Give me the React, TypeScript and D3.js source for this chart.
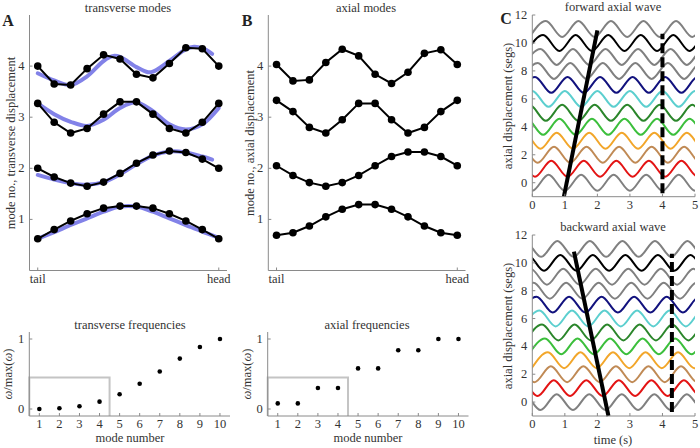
import React from "react";
import * as d3 from "d3";

// ---------- DATA ----------
const bodyPos = [1, 2, 3, 4, 5, 6, 7, 8, 9, 10, 11, 12];
const bodyTickLabels = ["tail", "head"];
const modeTicks = [1, 2, 3, 4];

const transMode1 = [0.62, 0.8, 0.97, 1.11, 1.22, 1.26, 1.26, 1.22, 1.11, 0.97, 0.8, 0.62];
const transMode2 = [2.0, 1.83, 1.71, 1.65, 1.73, 1.9, 2.1, 2.26, 2.34, 2.31, 2.18, 2.0];
const transMode3 = [3.27, 2.9, 2.69, 2.78, 3.06, 3.3, 3.3, 3.06, 2.78, 2.69, 2.9, 3.27];
const transMode4 = [4.0, 3.65, 3.63, 3.95, 4.22, 4.14, 3.84, 3.77, 4.05, 4.36, 4.34, 4.0];

const fitX1 = [1, 2, 3, 4, 5, 6, 7, 8, 9, 10, 11, 12];
const transFit1 = [0.62, 0.75, 0.89, 1.02, 1.15, 1.25, 1.25, 1.15, 1.02, 0.89, 0.76, 0.64];
const fitX2 = [1, 2, 3, 4, 5, 6, 7, 8, 9, 10, 11, 11.6];
const transFit2 = [1.87, 1.78, 1.71, 1.68, 1.73, 1.88, 2.08, 2.25, 2.33, 2.31, 2.23, 2.17];
const fitX3 = [1, 2, 3, 4, 5, 6, 7, 8, 9, 10, 11, 12];
const transFit3 = [3.27, 3.06, 2.91, 2.83, 2.95, 3.18, 3.29, 3.12, 2.86, 2.76, 2.86, 3.18];
const fitX4 = [1, 2, 3, 4, 5, 5.6, 6, 7, 7.7, 8, 9, 10, 10.5, 11, 11.6];
const transFit4 = [3.86, 3.72, 3.63, 3.8, 4.1, 4.2, 4.18, 3.98, 3.88, 3.89, 4.1, 4.33, 4.38, 4.35, 4.24];

const axMode1 = [0.69, 0.74, 0.87, 1.05, 1.2, 1.29, 1.29, 1.2, 1.05, 0.87, 0.74, 0.69];
const axMode2 = [2.05, 1.86, 1.72, 1.65, 1.72, 1.86, 2.05, 2.23, 2.32, 2.32, 2.23, 2.05];
const axMode3 = [3.33, 3.11, 2.8, 2.69, 2.95, 3.27, 3.27, 2.95, 2.69, 2.8, 3.11, 3.33];
const axMode4 = [4.03, 3.71, 3.73, 4.07, 4.33, 4.2, 3.84, 3.66, 3.88, 4.25, 4.32, 4.03];

const modeNumbers = [1, 2, 3, 4, 5, 6, 7, 8, 9, 10];
const transFreq = [0.0, 0.01, 0.04, 0.105, 0.21, 0.36, 0.535, 0.72, 0.885, 1.0];
const axialFreq = [0.08, 0.08, 0.3, 0.3, 0.58, 0.58, 0.84, 0.84, 1.0, 1.0];
const freqTicks = [0, 1];
const boxCorner = { x: 4.5, y: 0.45 };

const timeTicks = [0, 1, 2, 3, 4, 5];
const segTicks = [0, 2, 4, 6, 8, 10, 12];
const segCenters = [0, 1, 2, 3, 4, 5, 6, 7, 8, 9, 10, 11];
const segColors = ["#808080", "#e31414", "#c08a55", "#f2a62a", "#3cbf3c", "#2b862b", "#5ccfcf", "#12127e", "#808080", "#808080", "#000000", "#808080"];
const waveAmp = 0.57;
const wavePeriod = 1.0;
const fwdTrough = [0.0, 0.083, 0.167, 0.25, 0.333, 0.417, 0.5, 0.583, 0.667, 0.75, 0.833, 0.917];
const bwdTrough = [0.25, 0.16, 0.07, 0.98, 0.89, 0.8, 0.72, 0.63, 0.54, 0.45, 0.36, 0.27];
const fwdLine = [{ t: 0.97, y: -1 }, { t: 2.0, y: 10.9 }];
const bwdLine = [{ t: 1.28, y: 10.8 }, { t: 2.34, y: -1 }];
const fwdDash = [{ t: 4.0, y: -0.75 }, { t: 4.0, y: 10.65 }];
const bwdDash = [{ t: 4.29, y: -0.72 }, { t: 4.29, y: 10.65 }];

// ---------- STYLE ----------
const FONT = "'Liberation Serif', 'DejaVu Serif', serif";
const AX = "#8a8a8a";
const TXT = "#333";
const BLUE = "#8282e8";

const Title = ({ x, y, children }: any) => (
  <text x={x} y={y} textAnchor="middle" fontFamily={FONT} fontSize={12.5} fill={TXT}>{children}</text>
);
const Letter = ({ x, y, children }: any) => (
  <text x={x} y={y} textAnchor="middle" fontFamily={FONT} fontSize={16} fontWeight="bold" fill="#222">{children}</text>
);
const YLabel = ({ x, y, children }: any) => (
  <text transform={`translate(${x},${y}) rotate(-90)`} textAnchor="middle" fontFamily={FONT} fontSize={12.5} fill={TXT}>{children}</text>
);

function Axes({ xs, ys, xTicks, xLabels, yTicks, yLabels, xLabelY }: any) {
  const [x0, x1] = xs.range();
  const [y0, y1] = ys.range();
  return (
    <g>
      <line x1={x0} x2={x1} y1={y0} y2={y0} stroke={AX} strokeWidth={1} />
      <line x1={x0} x2={x0} y1={y0} y2={y1} stroke={AX} strokeWidth={1} />
      {xTicks.map((t: number, i: number) => (
        <g key={"x" + i}>
          <line x1={xs(t)} x2={xs(t)} y1={y0} y2={y0 - 3} stroke={AX} />
          <text x={xs(t)} y={y0 + xLabelY} textAnchor="middle" fontFamily={FONT} fontSize={12.5} fill={TXT}>{xLabels[i]}</text>
        </g>
      ))}
      {yTicks.map((t: number, i: number) => (
        <g key={"y" + i}>
          <line x1={x0} x2={x0 + 3} y1={ys(t)} y2={ys(t)} stroke={AX} />
          <text x={x0 - 5} y={ys(t) + 4} textAnchor="end" fontFamily={FONT} fontSize={12.5} fill={TXT}>{yLabels[i]}</text>
        </g>
      ))}
    </g>
  );
}

function ModePanel({ x0, x1, modes, fits, fitXs }: any) {
  const xs = d3.scaleLinear().domain([0.5, 12.5]).range([x0, x1]);
  const ys = d3.scaleLinear().domain([0, 5]).range([270.5, 15]);
  const line = d3.line<number>().x((_, i) => xs(bodyPos[i])).y((d) => ys(d));
  return (
    <g>
      <Axes xs={xs} ys={ys} xTicks={[1, 12]} xLabels={bodyTickLabels} yTicks={modeTicks} yLabels={modeTicks.map(String)} xLabelY={12.5} />
      {fits && fits.map((f: number[], k: number) => {
        const fl = d3.line<number>().x((_, i) => xs(fitXs[k][i])).y((d) => ys(d)).curve(d3.curveCatmullRom.alpha(0.5));
        return <path key={"f" + k} d={fl(f) || ""} fill="none" stroke={BLUE} strokeWidth={4} strokeLinecap="round" />;
      })}
      {modes.map((m: number[], k: number) => (
        <g key={k}>
          <path d={line(m) || ""} fill="none" stroke="#000" strokeWidth={2} />
          {m.map((v, i) => <circle key={i} cx={xs(bodyPos[i])} cy={ys(v)} r={3.8} fill="#000" />)}
        </g>
      ))}
    </g>
  );
}

function FreqPanel({ x0, x1, vals }: any) {
  const xs = d3.scaleLinear().domain([0.5, 10.5]).range([x0, x1]);
  const ys = d3.scaleLinear().domain([-0.1, 1.1]).range([416, 332]);
  return (
    <g>
      <path d={`M${xs(0.5)},${ys(-0.1)}V${ys(boxCorner.y)}H${xs(boxCorner.x)}V${ys(-0.1)}`} fill="none" stroke="#c4c4c4" strokeWidth={2} />
      <Axes xs={xs} ys={ys} xTicks={modeNumbers} xLabels={modeNumbers.map(String)} yTicks={freqTicks} yLabels={freqTicks.map(String)} xLabelY={12} />
      {vals.map((v: number, i: number) => <circle key={i} cx={xs(modeNumbers[i])} cy={ys(v)} r={2.3} fill="#000" />)}
    </g>
  );
}

function WavePanel({ yTop, yBot, troughs, solid, dash, id }: any) {
  const xs = d3.scaleLinear().domain([0, 5]).range([532.3, 695]);
  const ys = d3.scaleLinear().domain([-1, 12]).range([yBot, yTop]);
  const wl = d3.line<[number, number]>().x((d) => xs(d[0])).y((d) => ys(d[1])).curve(d3.curveMonotoneX);
  const pl = d3.line<any>().x((d) => xs(d.t)).y((d) => ys(d.y));
  return (
    <g>
      <defs>
        <clipPath id={id}>
          <rect x={xs(0)} y={yTop - 10} width={xs(5) - xs(0)} height={yBot - yTop + 20} />
        </clipPath>
      </defs>
      <g clipPath={`url(#${id})`}>
        {segCenters.map((c, k) => {
          const pts: [number, number][] = [];
          let trough = true;
          for (let t = troughs[k] - wavePeriod; t <= 5 + wavePeriod; t += wavePeriod / 2) {
            pts.push([t, c + (trough ? -waveAmp : waveAmp)]);
            trough = !trough;
          }
          return <path key={k} d={wl(pts) || ""} fill="none" stroke={segColors[k]} strokeWidth={2} />;
        })}
      </g>
      <path d={pl(solid) || ""} stroke="#000" strokeWidth={4} fill="none" />
      <path d={pl(dash) || ""} stroke="#000" strokeWidth={4} strokeDasharray="10,4" fill="none" />
      <Axes xs={xs} ys={ys} xTicks={timeTicks} xLabels={timeTicks.map(String)} yTicks={segTicks} yLabels={segTicks.map(String)} xLabelY={12} />
    </g>
  );
}

const Omega = () => (
  <>
    <tspan fontStyle="italic">ω</tspan>/max(<tspan fontStyle="italic">ω</tspan>)
  </>
);

export default function App() {
  return (
    <svg width={700} height={448} style={{ position: "absolute", left: 0, top: 0, background: "#fff" }}>
      <rect width={700} height={448} fill="#fff" />
      {/* Panel A */}
      <Letter x={8} y={26}>A</Letter>
      <Title x={128} y={12}>transverse modes</Title>
      <YLabel x={15} y={143}>mode no., transverse displacement</YLabel>
      <ModePanel x0={29.5} x1={227} modes={[transMode1, transMode2, transMode3, transMode4]}
        fits={[transFit1, transFit2, transFit3, transFit4]} fitXs={[fitX1, fitX2, fitX3, fitX4]} />
      {/* Panel B */}
      <Letter x={247} y={26}>B</Letter>
      <Title x={366} y={12}>axial modes</Title>
      <YLabel x={254} y={143}>mode no., axial displacement</YLabel>
      <ModePanel x0={268.3} x1={465.5} modes={[axMode1, axMode2, axMode3, axMode4]} />
      {/* Frequencies */}
      <Title x={130} y={329}>transverse frequencies</Title>
      <YLabel x={12} y={374}><Omega /></YLabel>
      <FreqPanel x0={29.3} x1={230} vals={transFreq} />
      <text x={130} y={442} textAnchor="middle" fontFamily={FONT} fontSize={12.5} fill={TXT}>mode number</text>
      <Title x={367} y={329}>axial frequencies</Title>
      <YLabel x={251} y={374}><Omega /></YLabel>
      <FreqPanel x0={267.7} x1={468.5} vals={axialFreq} />
      <text x={368} y={442} textAnchor="middle" fontFamily={FONT} fontSize={12.5} fill={TXT}>mode number</text>
      {/* Panel C */}
      <Letter x={506} y={24}>C</Letter>
      <Title x={613} y={11}>forward axial wave</Title>
      <YLabel x={512} y={106}>axial displacement (segs)</YLabel>
      <WavePanel id="cf" yTop={15} yBot={196.7} troughs={fwdTrough} solid={fwdLine} dash={fwdDash} />
      <Title x={613} y={231}>backward axial wave</Title>
      <YLabel x={512} y={326}>axial displacement (segs)</YLabel>
      <WavePanel id="cb" yTop={235} yBot={416} troughs={bwdTrough} solid={bwdLine} dash={bwdDash} />
      <text x={613} y={444} textAnchor="middle" fontFamily={FONT} fontSize={12.5} fill={TXT}>time (s)</text>
    </svg>
  );
}
